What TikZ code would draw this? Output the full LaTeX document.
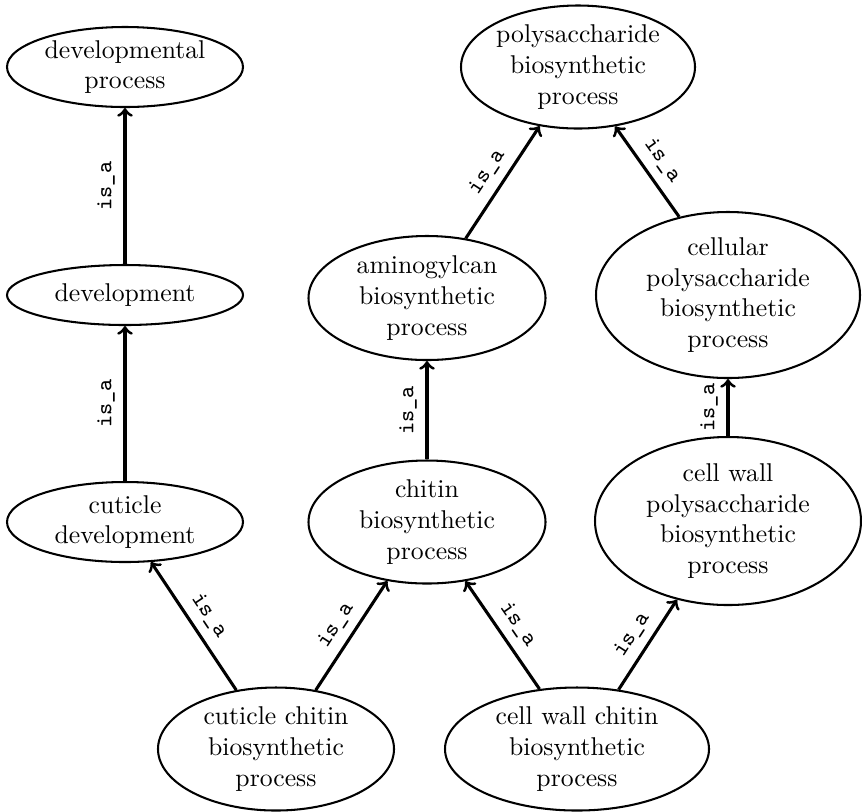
\documentclass[tikz,border=0pt]{standalone}
\usepackage{fontspec}
\usetikzlibrary{shapes.geometric}
\tikzset{
  box/.style n args={2}{ellipse, draw, line width=0.8pt,
    minimum width=#1*0.389pt, minimum height=#2*0.389pt, inner sep=0pt},
  txt/.style={align=center, inner sep=0pt, font=\fontsize{10}{12}\selectfont},
  edge/.style={->, line width=1.2pt},
  lab/.style={midway, sloped, above, font=\small\ttfamily},
}
\begin{document}
\begin{tikzpicture}[x=0.389pt, y=-0.389pt]
\useasboundingbox (0,0) rectangle (862,811);

% ontology terms
\node[box={236}{80}]  (devp)     at (125,67)  {};
\node[txt] (devp-t) at (devp) {developmental\\process};
\node[box={236}{60}]  (dev)      at (125,295) {};
\node[txt] (dev-t) at (dev) {development};
\node[box={236}{80}]  (cutdev)   at (125,522) {};
\node[txt] (cutdev-t) at (cutdev) {cuticle\\development};

\node[box={234}{123}] (poly)     at (578,67)  {};
\node[txt] (poly-t) at (poly) {polysaccharide\\biosynthetic\\process};
\node[box={237}{124}] (amino)    at (427,298) {};
\node[txt] (amino-t) at (amino) {aminogylcan\\biosynthetic\\process};
\node[box={237}{123}] (chitin)   at (427,522) {};
\node[txt] (chitin-t) at (chitin) {chitin\\biosynthetic\\process};

\node[box={264}{166}] (cellular) at (728,295) {};
\node[txt] (cellular-t) at (cellular) {cellular\\polysaccharide\\biosynthetic\\process};
\node[box={266}{168}] (cwpoly)   at (728,521) {};
\node[txt] (cwpoly-t) at (cwpoly) {cell wall\\polysaccharide\\biosynthetic\\process};

\node[box={236}{123}] (cutchit)  at (276,749) {};
\node[txt] (cutchit-t) at (cutchit) {cuticle chitin\\biosynthetic\\process};
\node[box={264}{123}] (cwchit)   at (577,749) {};
\node[txt] (cwchit-t) at (cwchit) {cell wall chitin\\biosynthetic\\process};

% is_a relations
\draw[edge] (dev) -- node[lab] {is\_a} (devp);
\draw[edge] (cutdev) -- node[lab] {is\_a} (dev);
\draw[edge] (chitin) -- node[lab] {is\_a} (amino);
\draw[edge] (cwpoly) -- node[lab] {is\_a} (cellular);
\draw[edge] (amino.57.6) -- node[lab] {is\_a} (poly.237.4);
\draw[edge] (cellular.122.7) -- node[lab] {is\_a} (poly.302);
\draw[edge] (cutchit.124.1) -- node[lab] {is\_a} (cutdev.303.4);
\draw[edge] (cutchit.56.5) -- node[lab] {is\_a} (chitin.236.7);
\draw[edge] (cwchit.122.8) -- node[lab] {is\_a} (chitin.303.3);
\draw[edge] (cwchit.55.2) -- node[lab] {is\_a} (cwpoly.237.5);
\end{tikzpicture}
\end{document}
